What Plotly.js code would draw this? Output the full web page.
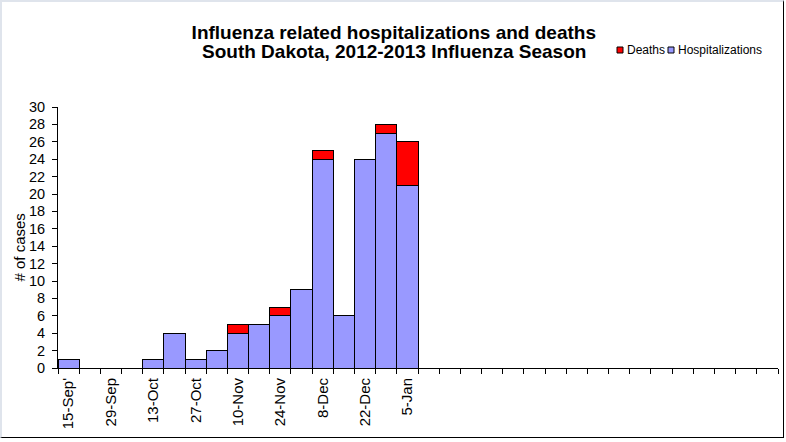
<!DOCTYPE html>
<html>
<head>
<meta charset="utf-8">
<script src="https://cdn.plot.ly/plotly-3.0.1.min.js"></script>
<style>
  body { margin: 0; background: #fff; }
  #wrap { position: relative; width: 786px; height: 442px; }
  #chart { position: absolute; left: 0; top: 0; width: 786px; height: 442px; }
  #frame {
    position: absolute; left: 0; top: 0; width: 784px; height: 438px;
    box-sizing: border-box; pointer-events: none;
    border-top: 2px solid #dfe4ec; border-left: 2px solid #dfe4ec;
    border-right: 1px solid #000; border-bottom: 1px solid #000;
  }
</style>
</head>
<body>
<div id="wrap">
  <div id="chart"></div>
  <div id="frame"></div>
</div>
<script>
// weekly categories of the season (week starting dates)
const weeks = [
  "15-Sep", "22-Sep", "29-Sep", "6-Oct", "13-Oct", "20-Oct", "27-Oct", "3-Nov",
  "10-Nov", "17-Nov", "24-Nov", "1-Dec", "8-Dec", "15-Dec", "22-Dec", "29-Dec",
  "5-Jan", "12-Jan", "19-Jan", "26-Jan", "2-Feb", "9-Feb", "16-Feb", "23-Feb",
  "2-Mar", "9-Mar", "16-Mar", "23-Mar", "30-Mar", "6-Apr", "13-Apr", "20-Apr",
  "27-Apr", "4-May"
];

// weeks with data so far
const reportedWeeks = weeks.slice(0, 17);
const hospitalizations = [1, 0, 0, 0, 1, 4, 1, 2, 4, 5, 6, 9, 24, 6, 24, 27, 21];
const deaths = [0, 0, 0, 0, 0, 0, 0, 0, 1, 0, 1, 0, 1, 0, 0, 1, 5];

// labelled ticks (every other week, as printed)
const labelWeeks = ["15-Sep", "29-Sep", "13-Oct", "27-Oct", "10-Nov", "24-Nov", "8-Dec", "22-Dec", "5-Jan"];
const labelText = ["15-Sep'", "29-Sep", "13-Oct", "27-Oct", "10-Nov", "24-Nov", "8-Dec", "22-Dec", "5-Jan"];

const seriesNames = ["Deaths", "Hospitalizations"];
const seriesColors = ["#ff0000", "#9999ff"];

const titleLines = ["Influenza related hospitalizations and deaths", "South Dakota, 2012-2013 Influenza Season"];

const font = "Arial, 'Liberation Sans', sans-serif";

const tickText = weeks.map(w => {
  const i = labelWeeks.indexOf(w);
  return i >= 0 ? labelText[i] : "";
});

let trace1 = {
  name: seriesNames[1],
  type: 'bar',
  x: reportedWeeks,
  y: hospitalizations,
  marker: { color: seriesColors[1], line: { color: '#000', width: 1 } },
};
let trace2 = {
  name: seriesNames[0],
  type: 'bar',
  x: reportedWeeks,
  y: deaths,
  marker: { color: seriesColors[0], line: { color: '#000', width: 1 } },
};

// hand-made legend so the swatches stay small like the original
let shapes = [];
let annotations = [];
const legendX = [559, 610];      // px offset from the left edge of the plot area
const legendText = [567, 618];
seriesNames.forEach(function (name, i) {
  shapes.push({
    type: 'rect',
    xref: 'paper', yref: 'paper',
    xsizemode: 'pixel', ysizemode: 'pixel',
    xanchor: 0, yanchor: 1,
    x0: legendX[i], x1: legendX[i] + 6,
    y0: 54, y1: 60,
    fillcolor: seriesColors[i],
    line: { color: '#000', width: 1 },
  });
  annotations.push({
    text: name,
    xref: 'paper', yref: 'paper',
    x: 0, y: 1,
    xshift: legendText[i], yshift: 57,
    xanchor: 'left', yanchor: 'middle',
    showarrow: false,
    font: { family: font, size: 12, color: '#000' },
  });
});

// second title line, placed by hand for the tight Excel line spacing
annotations.push({
  text: '<b>' + titleLines[1] + '</b>',
  xref: 'paper', yref: 'paper',
  x: 0, y: 1,
  xshift: 336, yshift: 56,
  xanchor: 'center', yanchor: 'middle',
  showarrow: false,
  font: { family: font, size: 19, color: '#000' },
});

annotations.push({
  text: '# of cases',
  xref: 'paper', yref: 'paper',
  x: 0, y: 0.5,
  xshift: -39, yshift: -10,
  xanchor: 'center', yanchor: 'middle',
  textangle: -90,
  showarrow: false,
  font: { family: font, size: 15, color: '#000' },
});

let layout = {
  width: 786,
  height: 442,
  margin: { l: 58, r: 8, t: 107, b: 74 },
  paper_bgcolor: '#fff',
  plot_bgcolor: '#fff',
  showlegend: false,
  barmode: 'stack',
  bargap: 0,
  title: {
    text: titleLines[0],
    font: { family: font, size: 19, color: '#000', weight: 'bold' },
    xref: 'container', yref: 'container',
    x: 0.501, y: 1 - 32 / 442,
    xanchor: 'center', yanchor: 'middle',
  },
  xaxis: {
    type: 'category',
    categoryorder: 'array',
    categoryarray: weeks,
    range: [-0.5, weeks.length - 0.5],
    tickmode: 'array',
    tickvals: weeks,
    ticktext: tickText,
    tickson: 'boundaries',
    ticks: 'outside',
    ticklen: 5,
    tickcolor: '#000',
    tickangle: -90,
    ticklabelstandoff: 3,
    tickfont: { family: font, size: 15, color: '#000' },
    showline: true,
    linecolor: '#000',
    linewidth: 1,
    showgrid: false,
    zeroline: false,
    fixedrange: true,
  },
  yaxis: {
    range: [0, 30],
    dtick: 2,
    ticks: 'outside',
    ticklen: 5,
    tickcolor: '#000',
    ticklabelstandoff: 4,
    tickfont: { family: font, size: 14.5, color: '#000' },
    showline: true,
    linecolor: '#000',
    linewidth: 1,
    showgrid: false,
    zeroline: false,
    fixedrange: true,
  },
  shapes: shapes,
  annotations: annotations,
};

Plotly.newPlot('chart', [trace1, trace2], layout, { displayModeBar: false, staticPlot: true });
</script>
</body>
</html>
